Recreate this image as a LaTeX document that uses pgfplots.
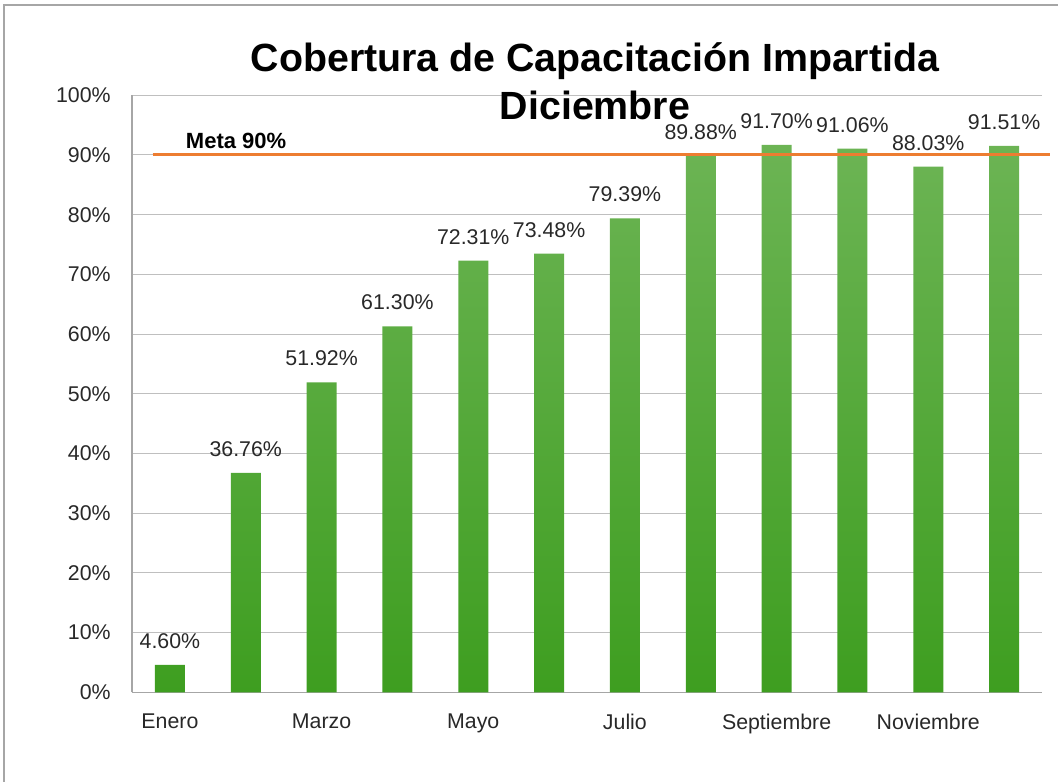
\documentclass[border=0pt]{standalone}
\usepackage{pgfplots}
\pgfplotsset{compat=1.18}
\usepackage{fontspec}
\setmainfont{Liberation Sans}
\definecolor{bartop}{RGB}{108,180,84}
\definecolor{barbot}{RGB}{62,158,32}
\definecolor{meta}{RGB}{237,125,49}
\definecolor{gridc}{RGB}{191,191,191}
\definecolor{axc}{RGB}{166,166,166}
\definecolor{txt}{RGB}{40,40,40}
\begin{document}
\begin{tikzpicture}[x=1pt,y=1pt]
\path[use as bounding box] (0,0) rectangle (793.5,586.5);
\draw[color=axc, line width=1.1pt] (3,0) -- (3,582.75) -- (793.5,582.75);
\begin{axis}[
  at={(99pt,67.3pt)}, anchor=south west,
  scale only axis, width=682.5pt, height=447.75pt,
  xmin=-0.5, xmax=11.5, ymin=0, ymax=100,
  clip=false,
  axis line style={draw=axc, line width=0.8pt},
  axis x line*=bottom, axis y line*=left,
  ytick={0,10,...,100},
  ymajorgrids, grid style={gridc, line width=0.8pt},
  major tick length=0pt,
  xtick={0,2,4,6,8,10},
  xticklabels={Enero,Marzo,Mayo,Julio,Septiembre,Noviembre},
  /pgf/number format/assume math mode=true,
  yticklabel={\pgfmathprintnumber{\tick}\%},
  ticklabel style={font=\fontsize{16}{19}\selectfont, text=txt},
  yticklabel style={xshift=-12.5pt},
  xticklabel style={yshift=-13pt},
  ybar, bar width=22.5pt,
  nodes near coords={\pgfmathprintnumber[fixed,fixed zerofill,precision=2]{\pgfplotspointmeta}\%},
  nodes near coords style={font=\fontsize{16}{19}\selectfont, text=txt, anchor=south, inner sep=0pt, yshift=12pt},
]
\addplot[draw=none, top color=bartop, bottom color=barbot] coordinates {
(0,4.60) (1,36.76) (2,51.92) (3,61.30) (4,72.31) (5,73.48)
(6,79.39) (7,89.88) (8,91.70) (9,91.06) (10,88.03) (11,91.51)};
\addplot[sharp plot, meta, line width=2.2pt, nodes near coords={}, forget plot] coordinates {(-0.227,90) (11.61,90)};
\node[anchor=base west, inner sep=0pt, font=\bfseries\fontsize{16.5}{19}\selectfont] at (axis cs:0.208,91.05) {Meta 90\%};
\end{axis}
\node[anchor=base, inner sep=0pt, font=\bfseries\fontsize{29.5}{34}\selectfont] at (446.25,532.5) {Cobertura de Capacitación Impartida};
\node[anchor=base, inner sep=0pt, font=\bfseries\fontsize{29.5}{34}\selectfont] at (446.25,496.5) {Diciembre};
\end{tikzpicture}
\end{document}
